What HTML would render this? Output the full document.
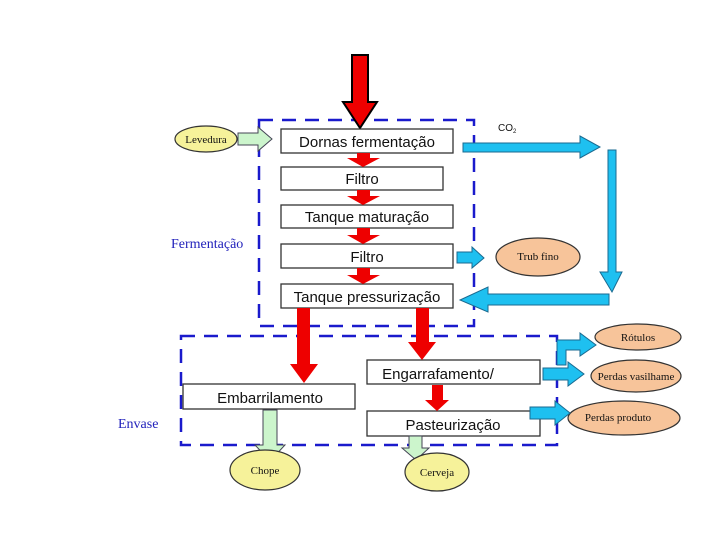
<!DOCTYPE html>
<html><head><meta charset="utf-8"><style>body{margin:0;background:#fff}svg{display:block}</style></head><body>
<svg width="720" height="540" viewBox="0 0 720 540" xmlns="http://www.w3.org/2000/svg" font-family="Liberation Sans, sans-serif">
<rect width="720" height="540" fill="#fff"/>
<!-- dashed boxes -->
<rect x="259" y="120" width="215" height="206" fill="none" stroke="#1a1acc" stroke-width="2.5" stroke-dasharray="14,9"/>
<rect x="181" y="336" width="376" height="109" fill="none" stroke="#1a1acc" stroke-width="2.5" stroke-dasharray="14,9"/>
<!-- top red arrow -->
<polygon points="352,55 368,55 368,102 377,102 360,128 343,102 352,102" fill="#ee0000" stroke="#000" stroke-width="2"/>
<!-- boxes -->
<g fill="#fff" stroke="#333" stroke-width="1.3">
<rect x="281" y="129" width="172" height="24"/>
<rect x="281" y="167" width="162" height="23"/>
<rect x="281" y="205" width="172" height="23"/>
<rect x="281" y="244" width="172" height="24"/>
<rect x="281" y="284" width="172" height="24"/>
<rect x="183" y="384" width="172" height="25"/>
<rect x="367" y="360" width="173" height="24"/>
<rect x="367" y="411" width="173" height="25"/>
</g>
<g font-size="15" fill="#111" text-anchor="middle">
<text x="367" y="147">Dornas fermentação</text>
<text x="362" y="184">Filtro</text>
<text x="367" y="222">Tanque maturação</text>
<text x="367" y="262">Filtro</text>
<text x="367" y="302">Tanque pressurização</text>
<text x="270" y="403">Embarrilamento</text>
<text x="438" y="379">Engarrafamento/</text>
<text x="453" y="430">Pasteurização</text>
</g>
<!-- small red arrows -->
<g fill="#ee0000">
<polygon points="357,153 370,153 370,158 380,158 363,167 347,158 357,158"/>
<polygon points="357,190 370,190 370,196 380,196 363,205 347,196 357,196"/>
<polygon points="357,228 370,228 370,235 380,235 363,244 347,235 357,235"/>
<polygon points="357,268 370,268 370,275 380,275 363,284 347,275 357,275"/>
<polygon points="297,308 310,308 310,364 318,364 304,383 290,364 297,364"/>
<polygon points="416,308 429,308 429,342 436,342 422,360 408,342 416,342"/>
<polygon points="432,385 443,385 443,400 449,400 437,411 425,400 432,400"/>
</g>
<!-- green arrows -->
<g fill="#ccf5cc" stroke="#445" stroke-width="1">
<polygon points="238,133 258,133 258,127 272,139 258,151 258,145 238,145"/>
<polygon points="263,410 277,410 277,445 285,445 270,461 255,445 263,445"/>
<polygon points="409,436 422,436 422,448 429,448 416,460 402,448 409,448"/>
</g>
<!-- ellipses -->
<g stroke="#333" stroke-width="1.2" font-family="Liberation Serif, serif" font-size="11" text-anchor="middle" fill="#111">
<ellipse cx="206" cy="139" rx="31" ry="13" fill="#f6f29a"/>
<text x="206" y="143" stroke="none">Levedura</text>
<ellipse cx="265" cy="470" rx="35" ry="20" fill="#f6f29a"/>
<text x="265" y="474" stroke="none">Chope</text>
<ellipse cx="437" cy="472" rx="32" ry="19" fill="#f6f29a"/>
<text x="437" y="476" stroke="none">Cerveja</text>
<ellipse cx="538" cy="257" rx="42" ry="19" fill="#f7c49a"/>
<text x="538" y="260" stroke="none">Trub fino</text>
<ellipse cx="638" cy="337" rx="43" ry="13" fill="#f7c49a"/>
<text x="638" y="341" stroke="none">Rótulos</text>
<ellipse cx="636" cy="376" rx="45" ry="16" fill="#f7c49a"/>
<text x="636" y="380" stroke="none">Perdas vasilhame</text>
<ellipse cx="624" cy="418" rx="56" ry="17" fill="#f7c49a"/>
<text x="618" y="421" stroke="none">Perdas produto</text>
</g>
<!-- blue arrows -->
<g fill="#1ec0f0" stroke="#1a6a90" stroke-width="1">
<polygon points="463,143 580,143 580,136 600,147 580,158 580,152 463,152"/>
<polygon points="608,150 616,150 616,272 622,272 612,292 600,272 608,272"/>
<polygon points="609,294 609,305 488,305 488,312 460,300 488,287 488,294"/>
<polygon points="457,252 472,252 472,247 484,258 472,268 472,263 457,263"/>
<polygon points="557,365 557,340 580,340 580,333 596,345 580,356 580,350 566,350 566,365"/>
<polygon points="543,368 568,368 568,362 584,374 568,386 568,380 543,380"/>
<polygon points="530,407 555,407 555,401 570,413 555,425 555,419 530,419"/>
</g>
<text x="498" y="131" font-size="10" fill="#111">CO<tspan font-size="6" dy="2">2</tspan></text>
<g font-family="Liberation Serif, serif" font-size="14" fill="#2222bb">
<text x="171" y="248">Fermentação</text>
<text x="118" y="428">Envase</text>
</g>
</svg>
</body></html>
